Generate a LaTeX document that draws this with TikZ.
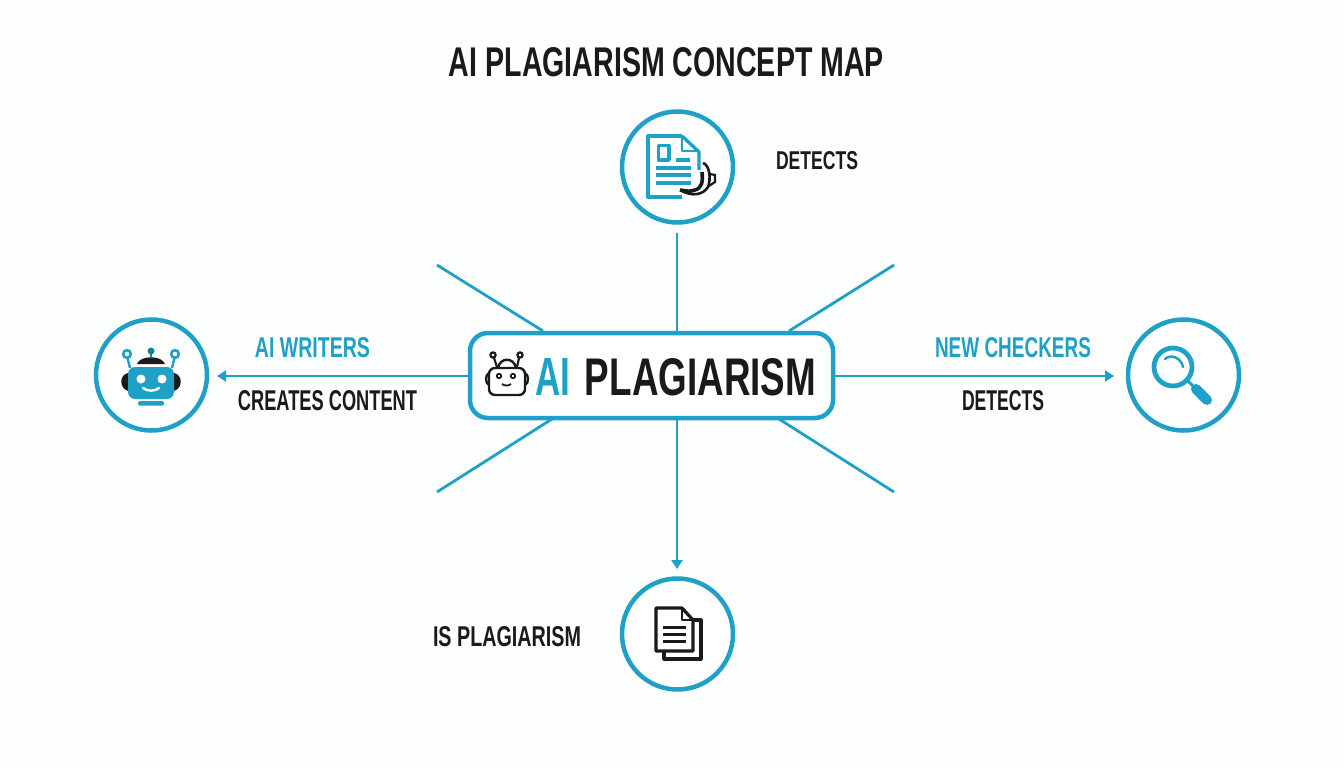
\documentclass[tikz,border=0pt]{standalone}
\usepackage{graphicx}
\usepackage{fontspec}
\setmainfont{Liberation Sans}
\usetikzlibrary{arrows.meta}
\definecolor{brand}{HTML}{1FA0C6}
\definecolor{ink}{HTML}{1A1A1C}
\definecolor{paper}{HTML}{FDFEFE}
\newcommand{\fitlabel}[3]{\resizebox{#1pt}{#2pt}{\bfseries #3}}
\tikzset{
  x=1pt,y=-1pt,
  ring/.style={circle,draw=brand,line width=4.5pt,minimum size=111pt,inner sep=0pt,fill=white},
  hub/.style={rectangle,rounded corners=18pt,draw=brand,line width=4.5pt,fill=white,minimum width=363pt,minimum height=85pt,inner sep=0pt},
  lab/.style={inner sep=0pt,text=ink},
  blab/.style={inner sep=0pt,text=brand},
  spoke/.style={draw=brand,line width=2.8pt},
  arrowspoke/.style={spoke,-{Triangle[length=9pt,width=11pt]}},
  iconb/.style={draw=brand,line width=3.4pt,line join=round},
  iconk/.style={draw=ink,line width=3.2pt,line join=round},
}
\begin{document}
\begin{tikzpicture}
\path[use as bounding box,fill=paper] (0,0) rectangle (1344,768);

% free ends of the connectors
\coordinate (ftop) at (677,233);
\coordinate (fnw) at (437,265);
\coordinate (fne) at (894,265);
\coordinate (fsw) at (437,492);
\coordinate (fse) at (894,492);
\coordinate (jnw) at (543,331);
\coordinate (jne) at (789,331);
\coordinate (jsw) at (552,419);
\coordinate (jse) at (779,419);
\coordinate (fleft) at (217,376);
\coordinate (fright) at (1114,376);
\coordinate (fdown) at (677,569);

% nodes
\node[ring] (top) at (677.5,167) {};
\node[ring] (left) at (151.5,375) {};
\node[ring] (right) at (1183.5,375) {};
\node[ring] (bottom) at (677.5,634) {};

% connectors
\draw[spoke] (ftop) -- (677,334);
\draw[spoke] (fnw) -- (jnw);
\draw[spoke] (fne) -- (jne);
\draw[spoke] (fsw) -- (jsw);
\draw[spoke] (fse) -- (jse);
\node[hub] (center) at (651.5,375.5) {};
\draw[arrowspoke] (center.west |- fleft) -- (fleft);
\draw[arrowspoke] (center.east |- fright) -- (fright);
\draw[arrowspoke] (fdown |- center.south) -- (fdown);

% labels
\node[lab] (title) at (666.5,62) {\fitlabel{435}{29}{AI PLAGIARISM CONCEPT MAP}};
\node[lab] (ldet) at (817,161) {\fitlabel{82}{18}{DETECTS}};
\node[blab] (lwri) at (312.5,348) {\fitlabel{115}{20}{AI WRITERS}};
\node[lab] (lcre) at (327.5,401) {\fitlabel{179}{20}{CREATES CONTENT}};
\node[blab] (lnew) at (1013,348) {\fitlabel{156}{20}{NEW CHECKERS}};
\node[lab] (ldet2) at (1003,401) {\fitlabel{82}{20}{DETECTS}};
\node[lab] (lisp) at (507,637) {\fitlabel{148}{20}{IS PLAGIARISM}};
\node[blab] (hubai) at (552.5,377) {\fitlabel{35}{37}{AI}};
\node[lab] (hubpl) at (700.5,377) {\fitlabel{231}{37}{PLAGIARISM}};

% top icon: document
\draw[iconb] (682,136) -- (648,136) -- (648,197) -- (682,197);
\draw[iconb] (682,136) -- (699,152) -- (699,170);
\draw[iconb,line width=2pt] (682,136) -- (682,151) -- (699,151);
\draw[iconb] (658.5,145.5) rectangle (669,160);
\draw[iconb] (676,160) -- (690,160);
\draw[iconb] (656,168) -- (691,168);
\draw[iconb] (656,175) -- (691,175);
\draw[iconb] (656,183) -- (691,183);
% top icon: headset
\draw[iconk,line width=2.6pt] (703,163) .. controls (710,165) and (711,180) .. (708,187) .. controls (703,195) and (692,197) .. (680,190);
\draw[ink,line width=2.2pt] (710,174) -- (715,175) -- (715,182) -- (709,186);
\draw[iconk,line width=3.6pt] (702,172) .. controls (703,182) and (702,188) .. (695,190) .. controls (690,192) and (686,191) .. (680,190);

% left icon: robot
\fill[ink] (137,364) .. controls (140,355) and (162,355) .. (165,364) -- cycle;
\fill[brand!80!black] (151,351) circle (3.5pt);
\draw[brand!80!black,line width=2.5pt] (151,351) -- (151,358);
\draw[brand,line width=2.6pt] (127,354) circle (3.8pt);
\draw[brand,line width=2.6pt] (175,354) circle (3.8pt);
\draw[brand,line width=2.4pt] (127.5,358) -- (130,368);
\draw[brand,line width=2.4pt] (174.5,358) -- (172,368);
\fill[ink] (128,373) .. controls (119,375) and (119,388) .. (128,391) -- cycle;
\fill[ink] (174,373) .. controls (183,375) and (183,388) .. (174,391) -- cycle;
\fill[brand,rounded corners=7pt] (128,367) rectangle (174,399);
\fill[brand,rounded corners=1.5pt] (138,401) rectangle (164,405.5);
\fill[white] (141,379) circle (4.5pt);
\fill[white] (162,379) circle (4.5pt);
\draw[white,line width=2.4pt,line cap=round] (143,388) .. controls (147,391.5) and (155,391.5) .. (159,388);

% hub icon: robot
\draw[ink,line width=2.4pt,rounded corners=6pt] (489,368) rectangle (525,395);
\draw[ink,line width=2.4pt] (498,368) .. controls (500,357) and (514,357) .. (516,368);
\draw[ink,line width=2.2pt] (493,355) circle (2.6pt);
\draw[ink,line width=2.2pt] (520,355) circle (2.6pt);
\draw[ink,line width=2.2pt] (494,358) -- (497,367);
\draw[ink,line width=2.2pt] (519,358) -- (517,367);
\draw[ink,line width=2.4pt] (489,373) .. controls (485,375) and (485,383) .. (489,385);
\draw[ink,line width=2.4pt] (525,373) .. controls (529,375) and (529,383) .. (525,385);
\draw[ink,line width=1.8pt] (499,376) circle (2.2pt);
\draw[ink,line width=1.8pt] (513,376) circle (2.2pt);
\draw[ink,line width=1.8pt] (502,384) .. controls (504,386) and (509,386) .. (511,384);

% right icon: magnifier
\draw[brand,line width=4.8pt] (1173,367) circle (19pt);
\draw[brand,line width=3pt] (1188,381) -- (1196,389);
\draw[brand,line width=10pt,line cap=round] (1196,389) -- (1207,400);
\draw[brand,line width=2.5pt,line cap=round] (1165,359) .. controls (1170,354) and (1181,357) .. (1183,367);

% bottom icon: documents
\draw[iconk] (693,620) -- (701,620) -- (701,659) -- (664,659) -- (664,651);
\draw[iconk,fill=white] (682,608) -- (656,608) -- (656,651) -- (693,651) -- (693,620) -- cycle;
\draw[iconk,line width=1.8pt] (682,608) -- (682,620) -- (693,620);
\draw[iconk,line width=3pt] (663,627) -- (686,627);
\draw[iconk,line width=3pt] (663,634) -- (686,634);
\draw[iconk,line width=3pt] (663,641) -- (686,641);
\end{tikzpicture}
\end{document}
